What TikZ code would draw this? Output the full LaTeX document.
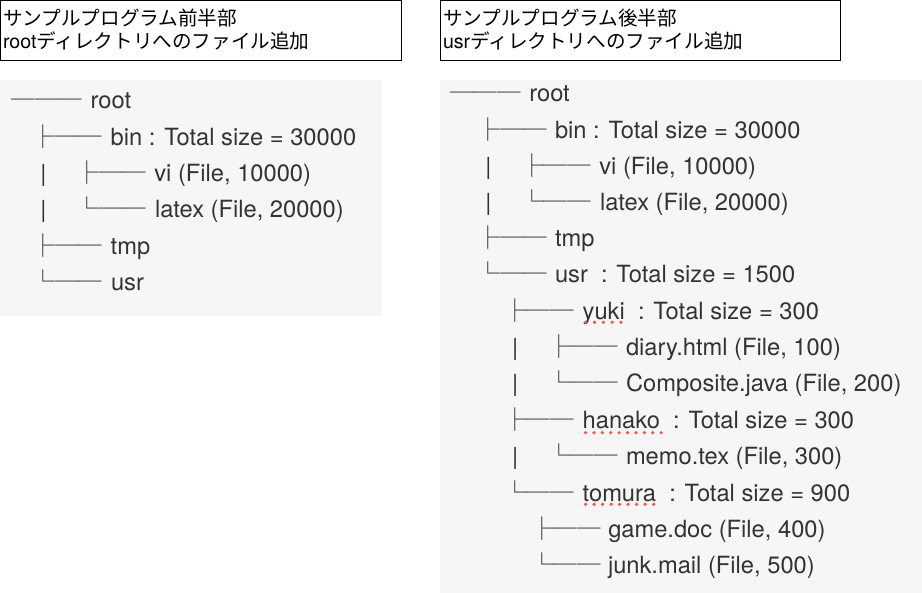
\documentclass[tikz,border=0pt]{standalone}
\usepackage{fontspec}
\setmainfont{TeX Gyre Heros}
\newfontfamily\cjk{Noto Sans CJK JP}
\definecolor{txt}{HTML}{333333}
\definecolor{panel}{HTML}{F6F6F6}
\definecolor{spell}{HTML}{F25555}
\begin{document}
\begin{tikzpicture}[x=1pt,y=-1pt,
  lbl/.style={anchor=base west,inner sep=0pt,outer sep=0pt,text=txt,font=\fontsize{23.7}{28}\selectfont},
  br/.style={anchor=base west,inner sep=0pt,outer sep=0pt,text=txt,font=\cjk\fontsize{23.5}{28}\selectfont},
  pipe/.style={anchor=base west,inner sep=0pt,outer sep=0pt,text=txt,font=\fontsize{23.5}{28}\selectfont},
  ttl/.style={anchor=base west,inner sep=0pt,outer sep=0pt,text=black,font=\fontsize{19.6}{23}\selectfont},
  titlebox/.style={draw=black,line width=1pt,fill=white},
  panelbox/.style={fill=panel,draw=none},
  spelldot/.style={fill=spell}]
\useasboundingbox (0,0) rectangle (922,593);
% title boxes
\draw[titlebox] (0.5,0.5) rectangle (401.5,60.5);
\draw[titlebox] (440.5,0.5) rectangle (840,60.5);
\node[ttl] (t1a) at (3,25.5) {{\cjk サンプルプログラム前半部}};
\node[ttl] (t1b) at (3,48.5) {root{\cjk ディレクトリへのファイル追加}};
\node[ttl] (t2a) at (443,25.5) {{\cjk サンプルプログラム後半部}};
\node[ttl] (t2b) at (443,48.5) {usr{\cjk ディレクトリへのファイル追加}};
% panels
\fill[panelbox] (0,80) rectangle (382,316);
\fill[panelbox] (440,80) rectangle (922,593);
% ---- left tree
\node[br] (Lrootb) at (12,109) {───};
\node[lbl] (Lroot) at (90.7,109) {root};
\node[br] (Lbinb) at (31.5,145.3) {├──};
\node[lbl] (Lbin) at (110.7,145.3) {bin : Total size = 30000};
\node[pipe] (Lvip) at (40.3,181.6) {|};
\node[br] (Lvib) at (75.5,181.6) {├──};
\node[lbl] (Lvi) at (154.3,181.6) {vi (File, 10000)};
\node[pipe] (Llap) at (40.3,218) {|};
\node[br] (Llab) at (75.5,218) {└──};
\node[lbl] (Lla) at (155,218) {latex (File, 20000)};
\node[br] (Ltmpb) at (31.5,254.3) {├──};
\node[lbl] (Ltmp) at (110.7,254.3) {tmp};
\node[br] (Lusrb) at (31.5,290.6) {└──};
\node[lbl] (Lusr) at (111,290.6) {usr};
% ---- right tree
\node[br] (Rrootb) at (450,101.7) {───};
\node[lbl] (Rroot) at (529.3,101.7) {root};
\node[br] (Rbinb) at (476.5,138.3) {├──};
\node[lbl] (Rbin) at (555,138.3) {bin : Total size = 30000};
\node[pipe] (Rvip) at (485.3,174.3) {|};
\node[br] (Rvib) at (520,174.3) {├──};
\node[lbl] (Rvi) at (599.3,174.3) {vi (File, 10000)};
\node[pipe] (Rlap) at (485.3,210.5) {|};
\node[br] (Rlab) at (520,210.5) {└──};
\node[lbl] (Rla) at (600,210.5) {latex (File, 20000)};
\node[br] (Rtmpb) at (476.5,246.8) {├──};
\node[lbl] (Rtmp) at (555,246.8) {tmp};
\node[br] (Rusrb) at (476.5,283) {└──};
\node[lbl] (Rusr) at (555,283) {usr\ \ : Total size = 1500};
\node[br] (Ryukib) at (503.3,319.3) {├──};
\node[lbl] (Ryuki) at (582.7,319.3) {yuki\ \ : Total size = 300};
\node[pipe] (Rdip) at (512,355.8) {|};
\node[br] (Rdib) at (547.3,355.8) {├──};
\node[lbl] (Rdi) at (626,355.8) {diary.html (File, 100)};
\node[pipe] (Rcop) at (512,392) {|};
\node[br] (Rcob) at (547.3,392) {└──};
\node[lbl] (Rco) at (626,392) {Composite.java (File, 200)};
\node[br] (Rhab) at (503.3,428.5) {├──};
\node[lbl] (Rha) at (582.7,428.5) {hanako\ \ : Total size = 300};
\node[pipe] (Rmep) at (512,465) {|};
\node[br] (Rmeb) at (547.3,465) {└──};
\node[lbl] (Rme) at (626,465) {memo.tex (File, 300)};
\node[br] (Rtob) at (503.3,501.3) {└──};
\node[lbl] (Rto) at (582.7,501.3) {tomura\ \ : Total size = 900};
\node[br] (Rgab) at (530,537.8) {├──};
\node[lbl] (Rga) at (608.3,537.8) {game.doc (File, 400)};
\node[br] (Rjub) at (530,574) {└──};
\node[lbl] (Rju) at (608,574) {junk.mail (File, 500)};
% spell-check marks
\foreach \i in {0,...,4} \fill[spelldot] (585.7+8.8*\i,322.3) circle (1.8pt);
\foreach \i in {0,...,9} \fill[spelldot] (585.5+8.4*\i,432.7) circle (1.8pt);
\foreach \i in {0,...,8} \fill[spelldot] (585.5+8.5*\i,504.3) circle (1.8pt);
\end{tikzpicture}
\end{document}
